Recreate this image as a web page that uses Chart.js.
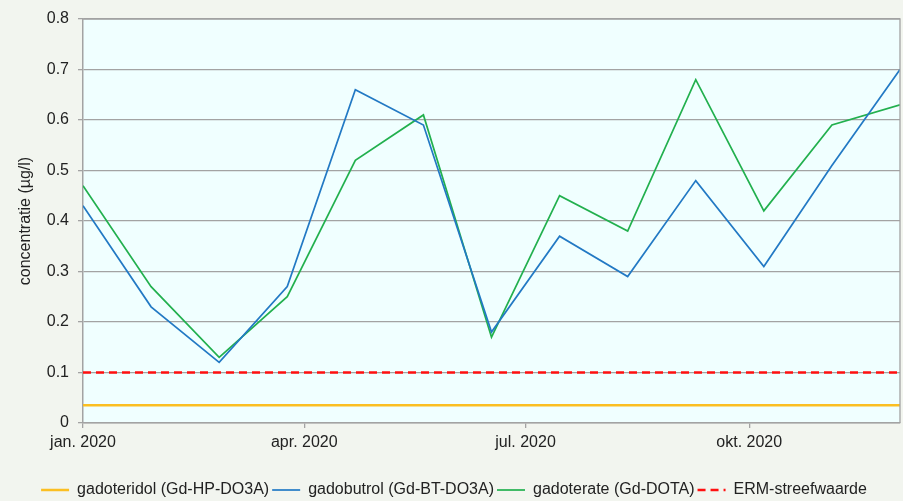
<!DOCTYPE html>
<html>
<head>
<meta charset="utf-8">
<script src="https://cdn.jsdelivr.net/npm/chart.js@4.4.1/dist/chart.umd.min.js"></script>
<style>
  html, body { margin: 0; padding: 0; background: #f2f5ef; }
  #wrap { width: 903px; height: 501px; }
</style>
</head>
<body>
<div id="wrap"><canvas id="chart" width="903" height="501"></canvas></div>
<script>
// days since 1 jan 2020 (4-weekly samples)
const sampleDays = [0, 28, 56, 84, 112, 140, 168, 196, 224, 252, 280, 308, 336];
const gadoteridol = [0.035, 0.035, 0.035, 0.035, 0.035, 0.035, 0.035, 0.035, 0.035, 0.035, 0.035, 0.035, 0.035];
const gadobutrol = [0.43, 0.23, 0.12, 0.27, 0.66, 0.59, 0.18, 0.37, 0.29, 0.48, 0.31, 0.51, 0.70];
const gadoterate = [0.47, 0.27, 0.13, 0.25, 0.52, 0.61, 0.17, 0.45, 0.38, 0.68, 0.42, 0.59, 0.63];
const ermTarget = [0.1, 0.1, 0.1, 0.1, 0.1, 0.1, 0.1, 0.1, 0.1, 0.1, 0.1, 0.1, 0.1];

const tickDays = [0, 91, 182, 274];
const tickLabels = ['jan. 2020', 'apr. 2020', 'jul. 2020', 'okt. 2020'];
const yTicks = [0, 0.1, 0.2, 0.3, 0.4, 0.5, 0.6, 0.7, 0.8];

const toPoints = vals => vals.map((v, i) => ({ x: sampleDays[i], y: v }));
const FONT = 'Liberation Sans, Arial, sans-serif';
const GRID = '#a3a3a3';

// plot background + frame
const plotArea = {
    id: 'plotArea',
    beforeDraw(chart) {
        const a = chart.chartArea, ctx = chart.ctx;
        ctx.save();
        ctx.fillStyle = '#f0ffff';
        ctx.fillRect(a.left, a.top, a.right - a.left, a.bottom - a.top);
        ctx.restore();
    },
    afterDatasetsDraw(chart) {
        const a = chart.chartArea, ctx = chart.ctx;
        ctx.save();
        ctx.strokeStyle = GRID; ctx.lineWidth = 1.3;
        ctx.beginPath();
        ctx.moveTo(a.left, a.top); ctx.lineTo(a.right, a.top); ctx.lineTo(a.right, a.bottom);
        ctx.stroke();
        ctx.restore();
    }
};

new Chart(document.getElementById('chart'), {
    type: 'line',
    data: {
        datasets: [
            { label: 'gadoteridol (Gd-HP-DO3A)', data: toPoints(gadoteridol), borderColor: '#fbbf22', backgroundColor: '#fbbf22', borderWidth: 2.5 },
            { label: 'gadobutrol (Gd-BT-DO3A)', data: toPoints(gadobutrol), borderColor: '#2279c4', backgroundColor: '#2279c4', borderWidth: 1.7 },
            { label: 'gadoterate (Gd-DOTA)', data: toPoints(gadoterate), borderColor: '#22b04e', backgroundColor: '#22b04e', borderWidth: 1.7 },
            { label: 'ERM-streefwaarde', data: toPoints(ermTarget), borderColor: '#ff1010', backgroundColor: '#ff1010', borderWidth: 2.5, borderDash: [8, 5] }
        ]
    },
    options: {
        responsive: false,
        animation: false,
        layout: { padding: { left: 8, right: 3, top: 19, bottom: -7 } },
        elements: { point: { radius: 0 }, line: { tension: 0 } },
        scales: {
            x: {
                type: 'linear', min: 0, max: 336,
                afterBuildTicks: s => { s.ticks = tickDays.map(v => ({ value: v })); },
                ticks: {
                    color: '#222', font: { family: FONT, size: 16 }, padding: 5, maxRotation: 0,
                    callback: (v) => tickLabels[tickDays.indexOf(v)]
                },
                grid: { drawOnChartArea: false, drawTicks: true, tickLength: 5, color: GRID, lineWidth: 1.3 },
                border: { color: GRID, width: 1.5 },
                afterFit: s => { s.height = 56; }
            },
            y: {
                min: 0, max: 0.8,
                afterBuildTicks: s => { s.ticks = yTicks.map(v => ({ value: v })); },
                ticks: {
                    color: '#222', font: { family: FONT, size: 16 }, padding: 9,
                    callback: v => (v === 0 ? '0' : v.toFixed(1))
                },
                grid: { color: GRID, lineWidth: 1.3, tickLength: 5 },
                border: { color: GRID, width: 1.5 },
                title: { display: true, text: 'concentratie (µg/l)', color: '#222', font: { family: FONT, size: 16 }, padding: { top: 8, bottom: 0 } },
                afterFit: s => { s.width = 75; }
            }
        },
        plugins: {
            legend: {
                position: 'bottom',
                labels: {
                    usePointStyle: true, pointStyle: 'line', pointStyleWidth: 28,
                    color: '#222', font: { family: FONT, size: 16 }, padding: 3,
                    // take dash + width from the line, not the point
                    generateLabels: chart => Chart.defaults.plugins.legend.labels.generateLabels(chart).map(item => {
                        const ds = chart.data.datasets[item.datasetIndex];
                        item.lineDash = ds.borderDash || [];
                        item.lineWidth = ds.borderWidth;
                        item.strokeStyle = ds.borderColor;
                        return item;
                    })
                }
            },
            tooltip: { enabled: false }
        }
    },
    plugins: [plotArea]
});
</script>
</body>
</html>
